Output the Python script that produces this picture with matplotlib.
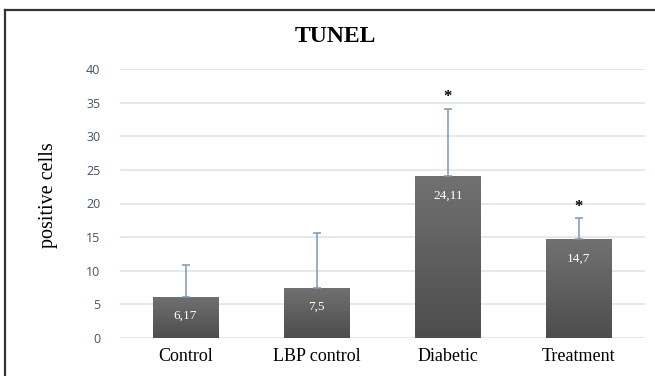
import numpy as np
import matplotlib
matplotlib.use("Agg")
import matplotlib.pyplot as plt
from matplotlib.lines import Line2D

groups = ["Control", "LBP control", "Diabetic", "Treatment"]
means = [6.17, 7.5, 24.11, 14.7]
errors = [4.63, 8.1, 10.0, 3.1]
value_labels = ["6,17", "7,5", "24,11", "14,7"]
significant = [False, False, True, True]

serif = ["Liberation Serif", "DejaVu Serif"]

fig = plt.figure(figsize=(6.55, 3.76), dpi=100)
ax = fig.add_axes([120 / 655, 1 - 338 / 376, 524.5 / 655, 269 / 376])

x = np.arange(len(groups))
bars = ax.bar(x, means, width=0.5, color="#5e5e5e", zorder=2)

# vertical grey gradient inside each bar
grad = np.linspace(1, 0, 256).reshape(-1, 1)
cmap = matplotlib.colors.LinearSegmentedColormap.from_list("g", ["#4d4d4d", "#717171"])
for b in bars:
    x0, w, h = b.get_x(), b.get_width(), b.get_height()
    im = ax.imshow(grad, cmap=cmap, aspect="auto", extent=(x0, x0 + w, 0, h),
                   origin="upper", zorder=3)
    im.set_clip_path(b)

ax.errorbar(x, means, yerr=[np.zeros(len(means)), errors], fmt="none",
            ecolor="#7f97b6", elinewidth=1.1, capsize=3.2, capthick=1.1, zorder=4)

for xi, m, e, lab, sig in zip(x, means, errors, value_labels, significant):
    ax.annotate(lab, (xi, m), xytext=(0, -14), textcoords="offset points",
                ha="center", va="center", color="white", fontsize=9.5,
                family=serif, zorder=5)
    if sig:
        ax.annotate("*", (xi, m + e), xytext=(0, 8), textcoords="offset points",
                    ha="center", va="center", fontsize=12, fontweight="bold",
                    family=serif, zorder=5)

ax.set_xlim(-0.5, len(groups) - 0.5)
ax.set_ylim(0, 40)
ax.set_yticks(range(0, 41, 5))
ax.set_xticks(x)
ax.set_xticklabels(groups, family=serif, fontsize=13)
ax.tick_params(axis="x", length=0, pad=7)
ax.tick_params(axis="y", length=0, pad=14, labelcolor="#44546a", labelsize=9)
for t in ax.get_yticklabels():
    t.set_family("Open Sans")
ax.yaxis.grid(True, color="#dde3ec", lw=1.1, zorder=0)
ax.set_axisbelow(True)
for s in ax.spines.values():
    s.set_visible(False)

fig.text(48 / 655, 1 - 195 / 376, "positive cells", rotation=90, ha="center",
         va="center", family=serif, fontsize=14.5)
fig.text(335 / 655, 1 - 36 / 376, "TUNEL", ha="center", va="center",
         family=serif, fontsize=17, fontweight="bold")

# outer frame (top and left edges)
fig.add_artist(Line2D([5 / 655, 1], [1 - 10 / 376] * 2, color="#333333", lw=1.6))
fig.add_artist(Line2D([5 / 655] * 2, [0, 1 - 10 / 376], color="#333333", lw=1.6))

fig.savefig("out.png", dpi=100)
